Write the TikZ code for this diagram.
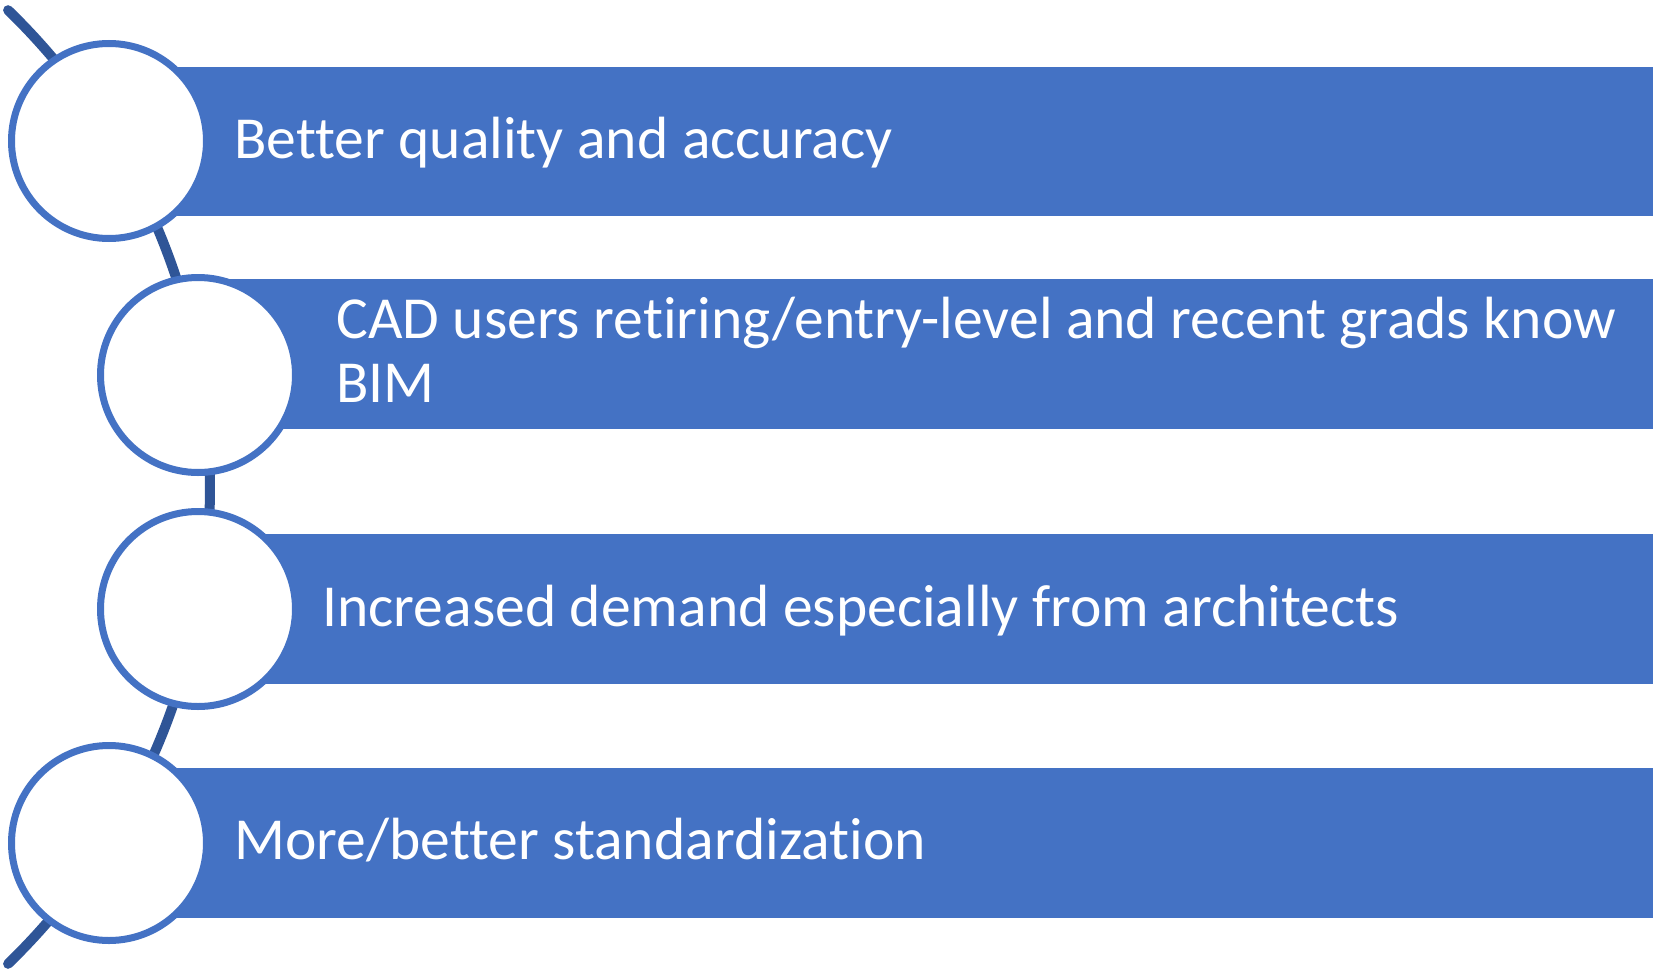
\documentclass[tikz,border=0pt]{standalone}
\usepackage{fontspec}
\setmainfont{Carlito}[Ligatures=NoCommon]
\definecolor{barblue}{HTML}{4472C4}
\definecolor{arcblue}{HTML}{2F5597}
\begin{document}
\begin{tikzpicture}[x=0.5pt,y=-0.5pt,line join=round,line cap=round,
	bar/.style={fill=barblue},
	dot/.style={circle,draw=barblue,line width=3.5pt,fill=white,minimum size=97.5pt,inner sep=0pt},
	txt/.style={anchor=base west,text=white,font=\fontsize{29.8}{32}\selectfont,align=left,inner sep=0pt}]
	\def\W{1653} \def\H{974}
	\useasboundingbox (0,0) rectangle (\W,\H);
	\draw[arcblue,line width=5pt] (-454,487) ++(-45.9:664) arc[start angle=-45.9,end angle=45.9,radius=664];
	\fill[bar] (109,67) rectangle (\W,216);
	\fill[bar] (198,279) rectangle (\W,429);
	\fill[bar] (198,534) rectangle (\W,684);
	\fill[bar] (109,768) rectangle (\W,918);
	\node[dot] (c1) at (109,141) {};
	\node[dot] (c2) at (198,375) {};
	\node[dot] (c3) at (198,609) {};
	\node[dot] (c4) at (109,843) {};
	\node[txt] (t1) at (234,158) {Better quality and accuracy};
	\node[txt] (t2) at (336,402) {CAD users retiring/entry-level and recent grads know\\BIM};
	\node[txt] (t3) at (322,626) {Increased demand especially from architects};
	\node[txt] (t4) at (234,859) {More/better standardization};
\end{tikzpicture}
\end{document}
